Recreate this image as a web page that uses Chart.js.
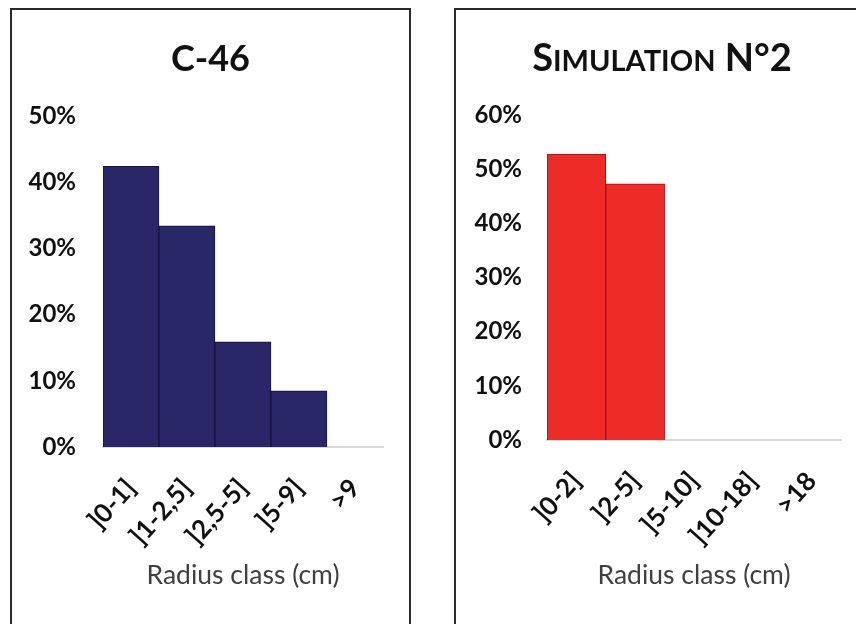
<!DOCTYPE html>
<html>
<head>
<meta charset="utf-8">
<script src="https://cdn.jsdelivr.net/npm/chart.js@4.4.1/dist/chart.umd.min.js"></script>
<style>
  html, body { margin: 0; padding: 0; background: #fff; overflow: hidden; }
  body { width: 856px; height: 624px; position: relative; }
  .panel { position: absolute; border: 2px solid #2b2b2b; box-sizing: border-box; background: #fff; }
  #p1 { left: 10px; top: 8px; width: 401px; height: 640px; }
  #p2 { left: 454px; top: 8px; width: 420px; height: 640px; }
  .wrap { position: absolute; }
  #w1 { left: 13px; top: 11px; width: 395px; height: 613px; }
  #w2 { left: 457px; top: 11px; width: 405px; height: 613px; }
</style>
</head>
<body>
<div class="panel" id="p1"></div>
<div class="panel" id="p2"></div>
<div class="wrap" id="w1"><canvas id="c1"></canvas></div>
<div class="wrap" id="w2"><canvas id="c2"></canvas></div>
<script>
// ---- data ----
const c46Title = 'C-46';
const c46Labels = [']0-1]', ']1-2,5]', ']2,5-5]', ']5-9]', '>9'];
const c46Values = [42.4, 33.4, 15.9, 8.5, 0];
const c46Max = 50;

const simTitle = 'SIMULATION N°2';
const simLabels = [']0-2]', ']2-5]', ']5-10]', ']10-18]', '>18'];
const simValues = [52.8, 47.3, 0, 0, 0];
const simMax = 60;

const xTitle = 'Radius class (cm)';
const yStep = 10;

const FAM = 'Lato, Carlito, Calibri, "Open Sans", sans-serif';

// Title drawing plugin (supports small caps for the simulation panel)
const capsTitle = {
  id: 'capsTitle',
  afterDraw(chart, args, opts) {
    if (!opts || !opts.enabled) return;
    const t = chart.titleBlock;
    const text = chart.options.plugins.title.text;
    const big = opts.big, small = opts.small;
    const ctx = chart.ctx;
    const segs = [];
    if (!opts.smallCaps) {
      segs.push([text, big]);
    } else {
      text.split(' ').forEach((w, wi) => {
        if (wi > 0) segs.push([' ', big]);
        segs.push([w[0], big]);
        const rest = w.slice(1);
        if (rest) {
          let buf = '', bufSmall = null;
          for (const ch of rest) {
            const isSmall = /[A-Z]/.test(ch);
            if (bufSmall === null) bufSmall = isSmall;
            if (isSmall !== bufSmall) { segs.push([buf, bufSmall ? small : big]); buf = ''; bufSmall = isSmall; }
            buf += ch;
          }
          if (buf) segs.push([buf, bufSmall ? small : big]);
        }
      });
    }
    ctx.save();
    ctx.fillStyle = opts.color;
    ctx.textBaseline = 'alphabetic';
    ctx.textAlign = 'left';
    let total = 0;
    segs.forEach(([s, sz]) => { ctx.font = 'bold ' + sz + 'px ' + FAM; total += ctx.measureText(s).width; });
    const cx = chart.width / 2 + opts.dx;
    const lh = chart.options.plugins.title.font.size * 1.2;
    const cy = t.top + chart.options.plugins.title.padding.top + lh / 2;
    const base = cy + big * 0.36;
    let x = cx - total / 2;
    segs.forEach(([s, sz]) => { ctx.font = 'bold ' + sz + 'px ' + FAM; ctx.fillText(s, x, base); x += ctx.measureText(s).width; });
    ctx.restore();
  }
};

function makeChart(id, title, labels, values, maxV, color, border, cfg) {
  return new Chart(document.getElementById(id), {
    type: 'bar',
    data: {
      labels: labels,
      datasets: [{
        data: values,
        backgroundColor: (c) => (c.raw > 0 ? color : 'rgba(0,0,0,0)'),
        borderColor: (c) => (c.raw > 0 ? border : 'rgba(0,0,0,0)'),
        borderWidth: (c) => (c.raw > 0 ? 1 : 0),
        borderSkipped: 'start',
        barPercentage: 1,
        categoryPercentage: 1
      }]
    },
    plugins: [capsTitle],
    options: {
      responsive: true,
      maintainAspectRatio: false,
      animation: false,
      events: [],
      layout: { padding: { top: cfg.padTop, right: cfg.padRight, bottom: cfg.padBottom, left: 0 } },
      plugins: {
        legend: { display: false },
        tooltip: { enabled: false },
        title: {
          display: true,
          text: title,
          color: 'rgba(0,0,0,0)',
          font: { family: FAM, size: 36, weight: 'bold' },
          padding: { top: cfg.titleTop, bottom: cfg.titleBottom }
        },
        capsTitle: { enabled: true, smallCaps: !!cfg.smallCaps, big: cfg.big, small: 29, color: '#111', dx: cfg.dx }
      },
      scales: {
        x: {
          grid: { display: false, drawTicks: false },
          border: { display: true, color: '#d9d9d9', width: 2 },
          ticks: {
            color: '#111',
            font: { family: FAM, size: 26, weight: 'bold' },
            minRotation: 48, maxRotation: 48,
            padding: 26,
            autoSkip: false
          },
          title: {
            display: true,
            text: xTitle,
            color: '#404040',
            font: { family: FAM, size: 26.5 },
            padding: { top: 4, bottom: 4 }
          },
          afterFit: (s) => { s.height = cfg.xHeight; }
        },
        y: {
          min: 0, max: maxV,
          grid: { display: false, drawTicks: false },
          border: { display: false },
          ticks: {
            stepSize: yStep,
            color: '#111',
            padding: cfg.yPad,
            font: { family: FAM, size: 24, weight: 'bold' },
            callback: (v) => v + '%'
          },
          afterFit: (s) => { s.width = cfg.yWidth; }
        }
      }
    }
  });
}

makeChart('c1', c46Title, c46Labels, c46Values, c46Max, '#2a2766', '#15133d',
  { padTop: 10, padRight: 25, padBottom: 29, titleTop: 15, titleBottom: 36.8, xHeight: 148, yWidth: 90, yPad: 27, big: 36, dx: 0 });
makeChart('c2', simTitle, simLabels, simValues, simMax, '#ee2b27', '#8e1a18',
  { padTop: 10, padRight: 12, padBottom: 29, titleTop: 15, titleBottom: 35.8, xHeight: 155, yWidth: 90, yPad: 25, big: 38, dx: 2.5, smallCaps: true });
</script>
</body>
</html>
